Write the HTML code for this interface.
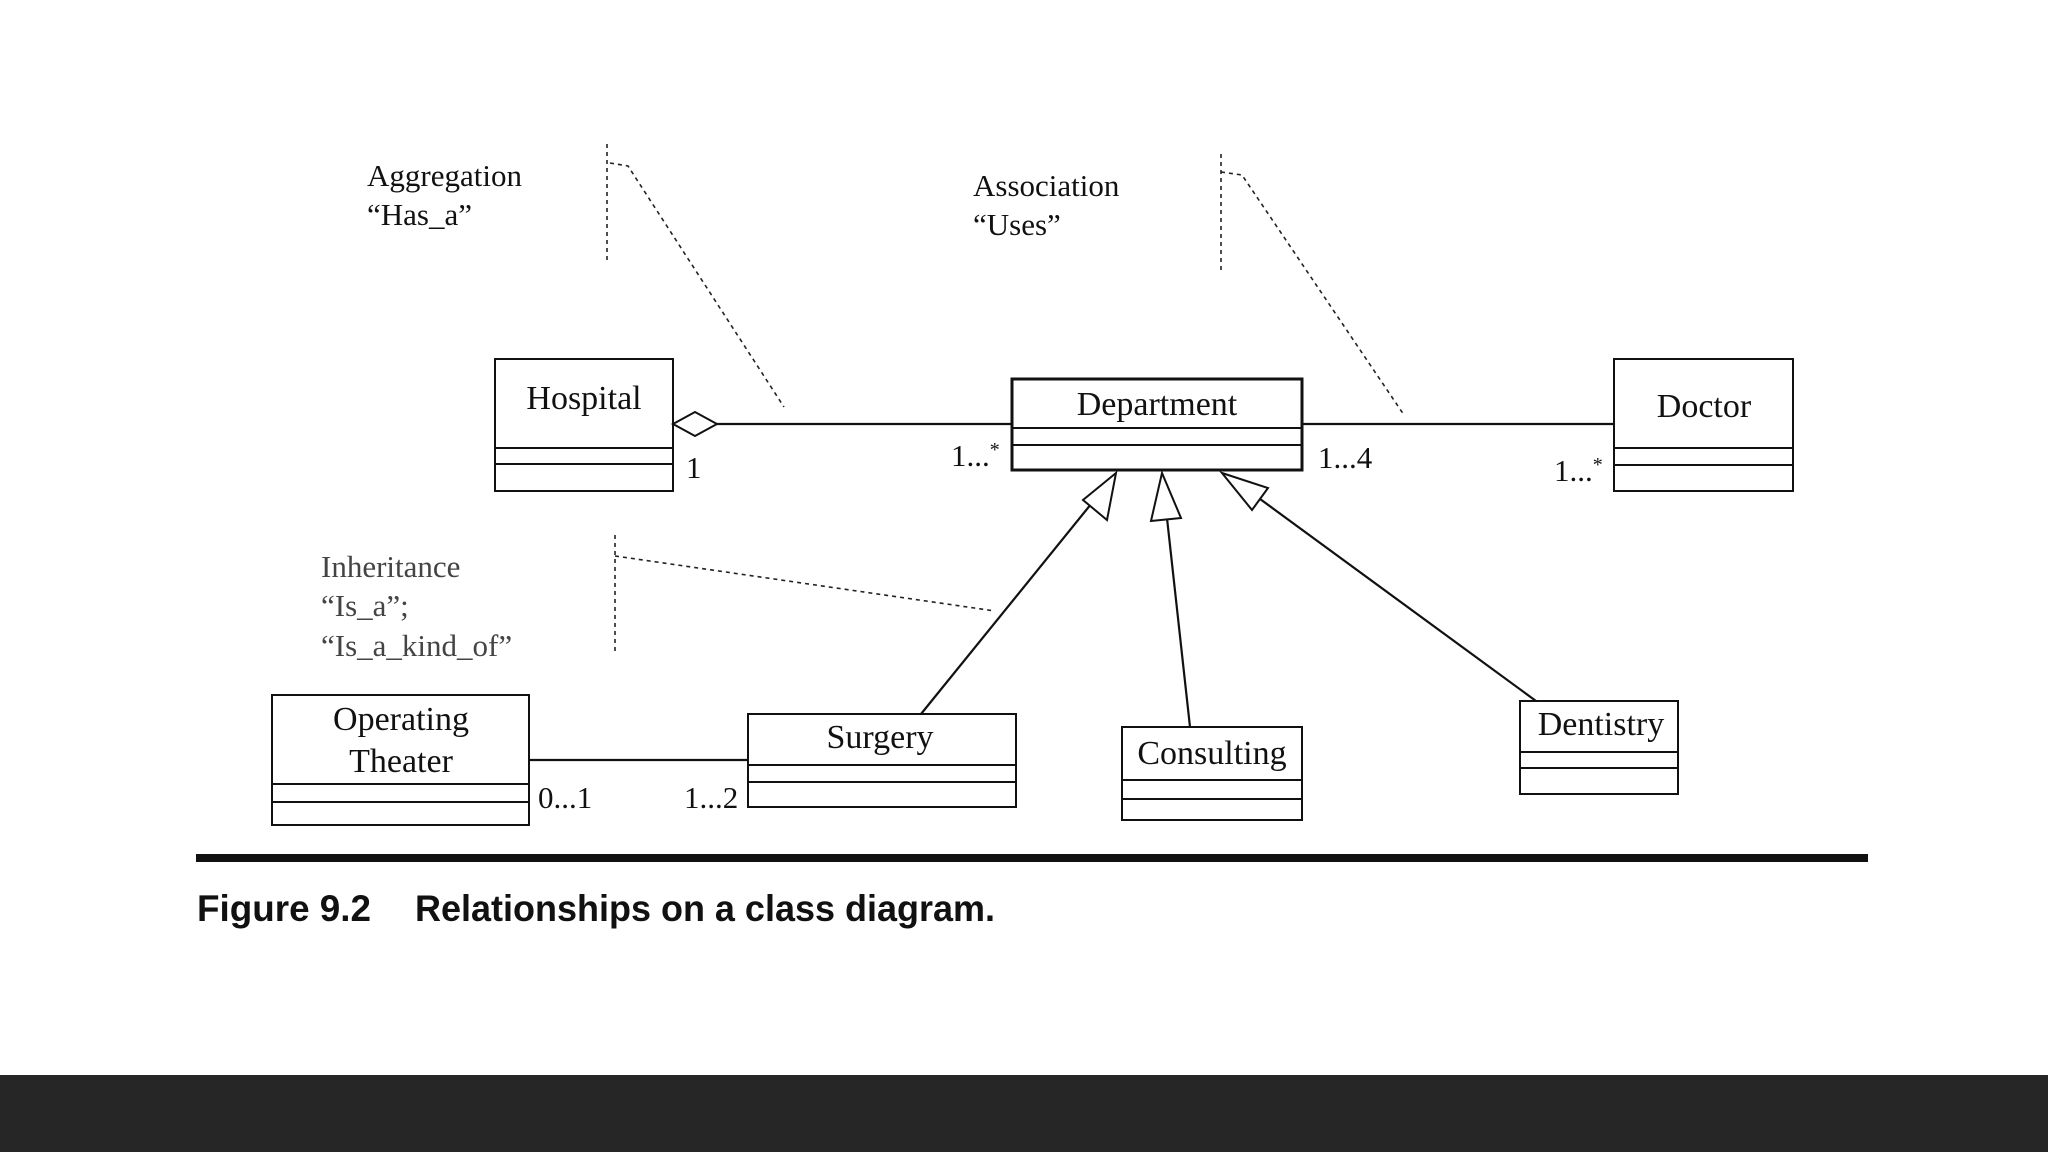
<!DOCTYPE html>
<html><head><meta charset="utf-8"><style>
html,body{margin:0;padding:0;background:#fff;}
svg{display:block;}
text{font-family:"Liberation Serif",serif;fill:#111;}
</style></head><body>
<svg width="2048" height="1152" viewBox="0 0 2048 1152" xmlns="http://www.w3.org/2000/svg">
<rect width="2048" height="1152" fill="#fff"/>
<g fill="none" stroke="#222" stroke-width="1.6" stroke-dasharray="4,4">
<path d="M607 144 V261"/><path d="M610 163 L628 166 L784 407"/>
<path d="M1221 154 V272"/><path d="M1221 172 L1242 175 L1404 415"/>
<path d="M615 535 V653"/><path d="M615 556 L636 559 L995 611"/>
</g>
<g fill="#fff" stroke="#111" stroke-width="2">
<rect x="495" y="359" width="178" height="132"/><path d="M495 448H673M495 464H673" fill="none"/>
<rect x="1012" y="379" width="290" height="91" stroke-width="3"/><path d="M1012 428H1302M1012 445H1302" fill="none"/>
<rect x="1614" y="359" width="179" height="132"/><path d="M1614 448H1793M1614 465H1793" fill="none"/>
<rect x="272" y="695" width="257" height="130"/><path d="M272 784H529M272 802H529" fill="none"/>
<rect x="748" y="714" width="268" height="93"/><path d="M748 765H1016M748 782H1016" fill="none"/>
<rect x="1122" y="727" width="180" height="93"/><path d="M1122 780H1302M1122 799H1302" fill="none"/>
<rect x="1520" y="701" width="158" height="93"/><path d="M1520 752H1678M1520 768H1678" fill="none"/>
</g>
<g stroke="#111" stroke-width="2.2" fill="none">
<path d="M717 424H1012"/><path d="M1302 424H1614"/>
<path d="M529 760H748"/>
<path d="M921 714L1100 493"/><path d="M1190 727L1165 500"/><path d="M1536 701L1245 488"/>
</g>
<g stroke="#111" stroke-width="2" fill="#fff">
<path d="M673 424L695 412L717 424L695 436Z"/>
<path d="M1116 473L1107 520L1083 500Z"/>
<path d="M1162 473L1181 518L1151 521Z"/>
<path d="M1222 473L1268 488L1252 510Z"/>
</g>
<g font-size="34">
<text x="584" y="409" text-anchor="middle">Hospital</text>
<text x="1157" y="415" text-anchor="middle">Department</text>
<text x="1704" y="417" text-anchor="middle">Doctor</text>
<text x="401" y="730" text-anchor="middle">Operating</text>
<text x="401" y="772" text-anchor="middle">Theater</text>
<text x="880" y="748" text-anchor="middle">Surgery</text>
<text x="1212" y="764" text-anchor="middle">Consulting</text>
<text x="1601" y="735" text-anchor="middle">Dentistry</text>
</g>
<g font-size="31">
<text x="686" y="478">1</text>
<text x="951" y="466">1...<tspan font-size="20" dy="-10">*</tspan></text>
<text x="1318" y="468">1...4</text>
<text x="1554" y="481">1...<tspan font-size="20" dy="-10">*</tspan></text>
<text x="538" y="808">0...1</text>
<text x="684" y="808">1...2</text>
<text x="367" y="186">Aggregation</text>
<text x="367" y="225">“Has_a”</text>
<text x="973" y="196">Association</text>
<text x="973" y="235">“Uses”</text>
<text x="321" y="577" style="fill:#444">Inheritance</text>
<text x="321" y="616" style="fill:#444">“Is_a”;</text>
<text x="321" y="656" style="fill:#444">“Is_a_kind_of”</text>
</g>
<rect x="196" y="854" width="1672" height="8" fill="#111"/>
<text x="197" y="921" font-size="37" font-weight="bold" textLength="174" lengthAdjust="spacingAndGlyphs" style="font-family:'Liberation Sans',sans-serif">Figure 9.2</text>
<text x="415" y="921" font-size="37" font-weight="bold" textLength="580" lengthAdjust="spacingAndGlyphs" style="font-family:'Liberation Sans',sans-serif">Relationships on a class diagram.</text>
<rect x="0" y="1075" width="2048" height="77" fill="#262626"/>
</svg>
</body></html>
